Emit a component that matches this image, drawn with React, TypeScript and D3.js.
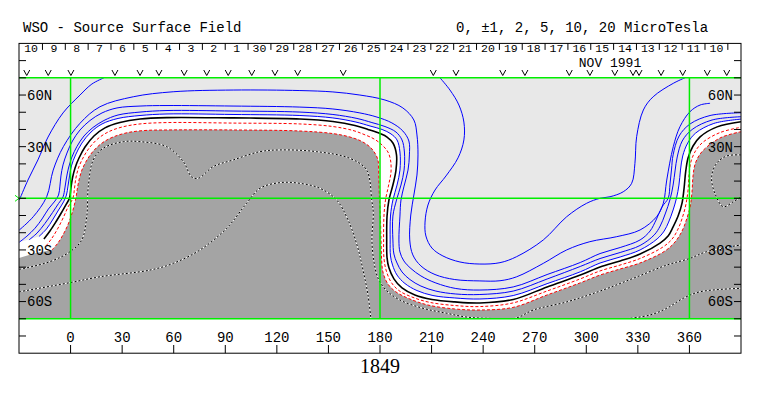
import React from 'react';
import * as d3 from 'd3';

type Pt = [number, number];

// date row (Carrington rotation 1849, time runs right to left)
const dateLabels = ['10', '9', '8', '7', '6', '5', '4', '3', '2', '1', '30', '29', '28', '27', '26', '25', '24', '23', '22', '21', '20', '19', '18', '17', '16', '15', '14', '13', '12', '11', '10'];
// longitudes of the observation markers (v)
const obsLons = [-25.5, -13.0, 0.2, 25.8, 40.4, 51.4, 66.1, 79.2, 91.7, 105.4, 118.9, 132.1, 158.6, 211.0, 224.2, 251.4, 264.3, 290.1, 302.1, 316.6, 327.2, 330.7, 343.5, 356.1, 370.4, 381.7];
const lonTicks = [0, 30, 60, 90, 120, 150, 180, 210, 240, 270, 300, 330, 360];
const latTicks = [-80, -70, -60, -50, -40, -30, -20, -10, 0, 10, 20, 30, 40, 50, 60, 70, 80];
const latLabels = [60, 30, -30, -60];
const gridLons = [0, 180, 360];

// contours, [longitude, latitude]
const neutral: Pt[] = [[-15.5, -23.6], [-12.0, -19.0], [-8.5, -13.6], [-5.0, -7.8], [-2.4, -3.3], [-0.6, 0.2], [0.2, 6.0], [1.1, 11.8], [2.6, 17.6], [4.9, 23.4], [8.4, 29.8], [13.6, 36.2], [20.0, 40.9], [28.7, 44.0], [40.4, 46.1], [56.1, 46.9], [94.5, 46.7], [133.4, 46.1], [152.6, 44.6], [165.4, 42.3], [173.0, 40.0], [180.0, 37.6], [184.1, 35.6], [187.6, 32.0], [189.6, 25.2], [189.3, 16.4], [187.5, 7.7], [185.2, -1.0], [184.1, -10.3], [183.9, -24.2], [184.1, -34.6], [185.2, -40.4], [188.1, -46.8], [192.8, -52.1], [200.3, -56.2], [210.2, -58.8], [223.5, -60.2], [238.1, -60.8], [257.5, -58.8], [277.2, -51.5], [296.5, -44.6], [308.0, -39.9], [319.7, -36.4], [331.3, -32.4], [342.9, -26.0], [347.6, -21.9], [350.5, -16.6], [353.4, -10.3], [355.7, -2.8], [356.9, 6.0], [357.8, 15.3], [359.2, 23.4], [362.1, 30.4], [366.2, 35.7], [376.1, 41.5], [390, 44.5]];

const pos1: Pt[] = [[-18.4, -22.2], [-14.0, -17.8], [-10.5, -12.6], [-7.0, -6.8], [-4.1, -2.1], [-2.4, 1.9], [-1.5, 7.1], [-0.6, 13.0], [0.5, 18.8], [2.9, 25.2], [6.6, 32.1], [11.9, 38.5], [18.3, 43.2], [27.6, 46.4], [40.4, 48.1], [56.1, 49.0], [94.5, 48.7], [133.4, 48.1], [152.6, 46.7], [166.0, 44.3], [174.2, 42.0], [181.2, 40.0], [186.4, 37.4], [189.9, 33.9], [191.6, 26.9], [191.6, 16.4], [189.9, 7.7], [187.5, -1.0], [186.1, -10.3], [185.9, -24.2], [186.1, -33.5], [187.3, -38.8], [189.9, -44.6], [194.5, -49.5], [201.5, -53.6], [210.8, -56.5], [223.5, -57.9], [238.1, -58.5], [257.5, -56.5], [277.2, -49.6], [296.5, -42.7], [308.0, -37.6], [319.7, -34.1], [331.3, -30.0], [341.2, -23.6], [345.3, -19.0], [347.9, -13.8], [350.5, -6.8], [352.5, 0.2], [353.9, 7.7], [354.8, 16.4], [356.1, 24.6], [359.0, 32.1], [363.6, 37.9], [374.2, 43.5], [390, 46.0]];

const pos2: Pt[] = [[-24.2, -24.2], [-19.5, -20.2], [-14.9, -14.6], [-10.5, -8.3], [-7.0, -3.0], [-4.4, 0.8], [-3.3, 6.0], [-2.4, 11.8], [-1.2, 17.6], [0.8, 24.0], [3.7, 30.1], [7.8, 36.2], [13.0, 41.1], [19.4, 45.2], [27.6, 48.4], [40.4, 50.1], [56.1, 51.0], [94.5, 50.7], [133.4, 50.1], [152.6, 48.7], [166.6, 46.4], [175.3, 44.0], [182.9, 41.7], [189.3, 38.5], [192.8, 33.9], [194.2, 26.9], [194.0, 16.4], [192.2, 7.7], [189.6, -1.0], [187.5, -10.3], [187.5, -24.2], [188.1, -32.4], [189.9, -37.6], [192.8, -42.8], [197.4, -47.2], [203.8, -51.0], [212.5, -53.9], [224.1, -55.6], [238.1, -55.9], [257.5, -53.9], [277.2, -46.9], [296.5, -39.6], [308.0, -35.0], [319.7, -31.5], [331.3, -27.4], [339.5, -21.3], [343.0, -16.1], [345.9, -9.1], [348.8, -0.4], [350.5, 7.7], [351.7, 16.4], [352.9, 24.0], [355.8, 33.3], [361.6, 40.0], [373.2, 45.5], [390, 47.4]];

const pos5: Pt[] = [[-29.8, -25.5], [-25.4, -22.0], [-20.7, -17.4], [-16.6, -12.0], [-12.9, -6.2], [-9.1, -1.6], [-7.0, 1.9], [-6.2, 7.1], [-5.6, 13.0], [-4.4, 19.4], [-2.1, 26.3], [1.1, 33.3], [5.5, 39.7], [11.3, 45.2], [18.3, 49.6], [27.0, 52.5], [40.4, 53.6], [56.1, 53.9], [94.5, 53.6], [133.4, 53.0], [152.6, 51.9], [168.3, 49.6], [178.2, 47.2], [186.9, 43.8], [193.3, 39.1], [196.8, 33.3], [197.1, 25.2], [196.3, 16.4], [194.0, 7.1], [192.2, -1.0], [191.6, -10.3], [191.0, -24.2], [191.6, -31.2], [193.9, -36.4], [198.0, -40.8], [203.8, -45.1], [212.5, -49.2], [224.1, -52.4], [238.1, -53.3], [257.5, -51.5], [277.2, -44.3], [296.5, -37.3], [308.0, -32.1], [319.7, -28.6], [331.3, -24.2], [337.1, -19.0], [340.6, -12.6], [344.0, -5.1], [347.7, 0.2], [348.7, 8.3], [349.6, 17.0], [350.5, 25.2], [354.0, 36.2], [360.4, 43.2], [372.0, 48.1], [390, 49.7]];

const pos10: Pt[] = [[-29.8, -18.4], [-21.7, -10.7], [-13.9, 0.9], [-10.1, 16.4], [-4.2, 30.0], [5.5, 43.6], [17.1, 53.2], [36.5, 59.0], [59.7, 61.9], [94.6, 62.9], [133.4, 62.6], [152.6, 61.8], [168.3, 60.0], [182.9, 57.1], [193.3, 52.5], [199.7, 45.5], [201.5, 36.8], [202.1, 25.2], [201.5, 13.5], [199.7, 1.9], [197.9, -9.7], [197.3, -24.2], [199.1, -32.9], [203.8, -39.3], [212.0, -44.3], [223.5, -47.2], [238.1, -48.0], [249.8, -47.9], [259.5, -45.6], [275.0, -37.8], [288.6, -30.0], [302.1, -25.2], [317.7, -22.3], [331.3, -18.4], [340.9, -10.7], [344.8, -2.9], [346.8, 10.6], [350.6, 30.0], [354.5, 41.6], [360.3, 50.3], [366.2, 54.2], [372.0, 55.2]];

const pos20West: Pt[] = [[-29.8, -1.0], [-24.8, 10.6], [-19.0, 22.3], [-13.1, 35.6], [-4.4, 49.6], [5.5, 60.0], [12.4, 66.4], [19.4, 70]];
const pos20East: Pt[] = [[214.9, 70], [220.7, 62.9], [225.9, 54.2], [228.8, 44.3], [228.8, 33.9], [225.4, 23.5], [218.4, 13.0], [212.0, 4.8], [207.9, -3.9], [206.2, -13.8], [206.7, -21.9], [210.2, -28.9], [216.6, -33.5], [226.5, -37.0], [238.1, -38.2], [249.8, -37.4], [259.5, -33.9], [275.0, -24.2], [288.6, -10.7], [300.2, -2.9], [308.0, 0.0], [313.8, 0.9], [321.5, 3.8], [326.4, 8.7], [328.3, 20.3], [329.3, 35.8], [333.2, 51.3], [338.9, 59.0], [350.6, 66.8], [357.4, 70]];

const neg1: Pt[] = [[-14.3, -27.7], [-10.8, -23.1], [-7.3, -17.3], [-4.1, -10.9], [-1.5, -5.1], [1.4, 0.2], [2.3, 6.0], [3.1, 11.8], [4.6, 17.6], [6.9, 22.8], [10.4, 28.6], [15.4, 34.2], [21.8, 38.5], [29.9, 41.4], [40.4, 43.2], [56.1, 44.0], [94.5, 43.7], [133.4, 43.2], [152.6, 41.7], [164.3, 39.4], [170.7, 37.1], [176.5, 34.5], [181.2, 31.0], [184.6, 26.9], [186.1, 22.3], [186.4, 15.3], [184.9, 7.1], [183.2, -1.0], [182.3, -10.3], [182.1, -24.2], [182.3, -34.7], [183.5, -41.6], [186.4, -48.6], [191.0, -53.6], [199.2, -57.6], [209.1, -60.5], [223.5, -62.3], [238.1, -62.9], [257.3, -60.8], [277.1, -53.9], [296.3, -46.9], [308.0, -42.2], [319.6, -38.8], [331.2, -35.0], [344.6, -28.3], [349.9, -23.7], [353.4, -17.8], [356.0, -10.9], [358.0, -3.3], [359.2, 4.8], [359.8, 14.1], [361.0, 21.7], [363.9, 28.1], [368.0, 32.7], [377.8, 38.2], [390, 41.3]];

const neg2: Pt[] = [[-10.8, -30.0], [-7.3, -25.9], [-3.8, -20.1], [-0.9, -13.8], [1.4, -6.8], [3.1, 0.2], [4.0, 6.0], [5.2, 11.8], [6.6, 16.4], [9.2, 21.7], [13.0, 27.2], [18.3, 32.1], [24.7, 35.6], [33.4, 38.2], [43.3, 39.4], [56.1, 39.7], [94.5, 39.7], [133.4, 39.1], [152.6, 37.6], [162.5, 35.6], [168.9, 33.3], [174.2, 29.8], [177.0, 26.3], [178.8, 22.3], [179.3, 13.5], [179.6, 1.9], [180.2, -9.7], [180.6, -24.2], [180.9, -34.7], [181.7, -42.8], [184.6, -49.8], [189.3, -54.4], [197.4, -58.5], [207.9, -62.0], [223.5, -64.3], [238.1, -64.9], [257.3, -63.4], [277.1, -56.2], [296.3, -49.2], [308.0, -44.6], [319.6, -41.1], [331.2, -37.6], [345.8, -30.6], [351.6, -25.4], [355.7, -19.0], [358.6, -11.4], [360.6, -3.9], [361.5, 3.7], [362.1, 13.0], [363.3, 19.9], [366.2, 25.7], [370.8, 30.4], [379.0, 35.6], [390, 38.7]];
const darkEdgeWest: Pt[] = [[-30, -34.7], [-20.7, -31.9]];

const neg5: Pt[] = [[-29.8, -41.3], [-12.0, -36.8], [-0.3, -31.0], [6.5, -24.2], [9.4, -10.7], [10.3, 6.7], [13.2, 22.3], [19.0, 29.1], [30.7, 32.9], [40.4, 32.9], [55.9, 30.0], [65.6, 21.3], [70.4, 12.5], [74.3, 11.6], [83.0, 18.4], [94.6, 22.3], [110.2, 27.1], [121.8, 28.1], [143.2, 27.1], [162.5, 23.2], [172.2, 16.4], [175.2, -1.0], [176.1, -8.7], [175.3, -24.2], [176.5, -37.0], [178.8, -46.3], [183.5, -53.3], [191.6, -59.1], [205.0, -63.9], [218.8, -66.8], [230.4, -69.0], [244.0, -69.8], [258.5, -69.8], [269.2, -64.9], [288.6, -60.2], [308.0, -53.9], [327.3, -46.5], [346.8, -38.8], [360.3, -34.9], [370.0, -31.0], [390, -27.1]];
const neg5East: Pt[] = [[390, 25.2], [381.7, 24.6], [375.8, 20.3], [372.9, 12.5], [374.8, 2.9], [379.7, -4.9], [385.5, -2.0], [390, 0.9]];
const neg10West: Pt[] = [[-29.8, -54.3], [-0.3, -49.0], [17.1, -45.6], [46.2, -41.7], [59.7, -37.8], [75.3, -30.0], [90.8, -17.4], [102.4, -2.9], [110.2, 5.8], [121.8, 9.1], [133.4, 8.7], [145.1, 5.8], [154.8, -1.0], [161.4, -12.6], [166.6, -27.1], [170.1, -41.6], [173.0, -56.1], [174.7, -70]];
const neg10East: Pt[] = [[323.5, -70], [337.1, -67.8], [346.8, -63.9], [356.4, -58.1], [366.2, -54.3], [390, -52.3]];

const W = 763;
const H = 396;
const frame = { left: 19, right: 741, top: 43.4, bottom: 353.2 };
const mono = "'Liberation Mono', 'DejaVu Sans Mono', monospace";

export default function App() {
  const x = d3.scaleLinear().domain([-30, 390]).range([frame.left, frame.right]);
  const y = d3.scaleLinear().domain([-90, 90]).range([frame.bottom, frame.top]);
  const dayLon = d3.scaleLinear().domain([0, 30]).range([-23, 375.7]);

  const curve = d3.line<Pt>().x((d) => x(d[0])).y((d) => y(d[1])).curve(d3.curveCatmullRom.alpha(0.5));
  const px = (p: Pt) => `${x(p[0])},${y(p[1])}`;

  const plotTop = y(70);
  const plotBottom = y(-70);

  const lightPath = `M${px([-30, 70])}L${px([-30, pos5[0][1]])}L` + curve(pos1)!.slice(1) + `L${px([390, 70])}Z`;
  const darkPath = `M${px([-30, -70])}L${darkEdgeWest.map(px).join('L')}L` + curve(neg2)!.slice(1) + `L${px([390, -70])}Z`;

  const dashedBW = [neg5, neg5East, neg10West, neg10East];
  const blues = [pos1, pos2, pos5, pos10, pos20West, pos20East];

  const separators = d3.range(0, dateLabels.length + 1).map((i) => x(dayLon(i - 0.5))).filter((v) => v > frame.left + 2 && v < frame.right - 2);

  return (
    <>
      <style>{'body{margin:0}'}</style>
      <svg width={W} height={H} style={{ display: 'block', background: '#fff' }}>
        <defs>
          <clipPath id="plot">
            <rect x={frame.left} y={plotTop} width={frame.right - frame.left} height={plotBottom - plotTop} />
          </clipPath>
        </defs>

        {/* header */}
        <text x={23} y={32} fontFamily={mono} fontSize={14}>WSO - Source Surface Field</text>
        <text x={456} y={32} fontFamily={mono} fontSize={14}>0, ±1, 2, 5, 10, 20 MicroTesla</text>

        {/* field map */}
        <g clipPath="url(#plot)">
          <rect x={frame.left} y={plotTop} width={frame.right - frame.left} height={plotBottom - plotTop} fill="#fff" />
          <path d={lightPath} fill="#e8e8e8" />
          <path d={darkPath} fill="#a4a4a4" />
          {dashedBW.map((c, i) => (
            <g key={'n' + i}>
              <path d={curve(c)!} fill="none" stroke="#fff" strokeWidth={1} />
              <path d={curve(c)!} fill="none" stroke="#000" strokeWidth={1} strokeDasharray="2,2" />
            </g>
          ))}
          {[neg1, neg2].map((c, i) => (
            <path key={'r' + i} d={curve(c)!} fill="none" stroke="#ff0000" strokeWidth={1} strokeDasharray="3,2" />
          ))}
          {blues.map((c, i) => (
            <path key={'b' + i} d={curve(c)!} fill="none" stroke="#0000ff" strokeWidth={1} />
          ))}
          <path d={curve(neutral)!} fill="none" stroke="#000" strokeWidth={1.6} />
          {gridLons.map((l) => (
            <line key={l} x1={x(l)} x2={x(l)} y1={plotTop} y2={plotBottom} stroke="#00ee00" strokeWidth={1.5} />
          ))}
          <line x1={frame.left} x2={frame.right} y1={y(0)} y2={y(0)} stroke="#00ee00" strokeWidth={1.5} />
        </g>
        <line x1={frame.left} x2={frame.right} y1={plotTop} y2={plotTop} stroke="#00ee00" strokeWidth={1.5} />
        <line x1={frame.left} x2={frame.right} y1={plotBottom} y2={plotBottom} stroke="#00ee00" strokeWidth={1.5} />
        <path d={`M15,${y(0) - 3}L19,${y(0)}L15,${y(0) + 3}`} fill="none" stroke="#00ee00" strokeWidth={1} />

        {/* frame */}
        <rect x={frame.left} y={frame.top} width={frame.right - frame.left} height={frame.bottom - frame.top} fill="none" stroke="#000" strokeWidth={1} />
        {latTicks.map((t) => (
          <g key={'t' + t}>
            <line x1={frame.left} x2={frame.left + 7} y1={y(t)} y2={y(t)} stroke="#000" />
            <line x1={frame.right - 7} x2={frame.right} y1={y(t)} y2={y(t)} stroke="#000" />
          </g>
        ))}
        {latLabels.map((t) => {
          const label = t > 0 ? `${t}N` : `${-t}S`;
          return (
            <g key={'l' + t} fontFamily={mono} fontSize={14}>
              <text x={frame.left + 8} y={y(t)} dy="0.35em">{label}</text>
              <text x={frame.right - 8} y={y(t)} dy="0.35em" textAnchor="end">{label}</text>
            </g>
          );
        })}

        {/* date row */}
        {separators.map((sx, i) => (
          <line key={'s' + i} x1={sx} x2={sx} y1={frame.top} y2={frame.top + 6.5} stroke="#000" />
        ))}
        {dateLabels.map((d, i) => (
          <text key={'d' + i} x={x(dayLon(i))} y={52} textAnchor="middle" fontFamily={mono} fontSize={11.5}>{d}</text>
        ))}
        <text x={610} y={67} textAnchor="middle" fontFamily={mono} fontSize={13}>NOV 1991</text>
        {obsLons.map((l, i) => (
          <path key={'v' + i} d={`M${x(l) - 3},70L${x(l)},75.5L${x(l) + 3},70`} fill="none" stroke="#000" strokeWidth={1} />
        ))}

        {/* longitude axis */}
        {lonTicks.map((l) => (
          <g key={'x' + l}>
            <line x1={x(l)} x2={x(l)} y1={345} y2={frame.bottom} stroke="#000" />
            <text x={x(l)} y={342} textAnchor="middle" fontFamily={mono} fontSize={14}>{l}</text>
          </g>
        ))}
        <text x={380} y={373} textAnchor="middle" fontFamily="'Liberation Serif', serif" fontSize={20}>1849</text>
      </svg>
    </>
  );
}
